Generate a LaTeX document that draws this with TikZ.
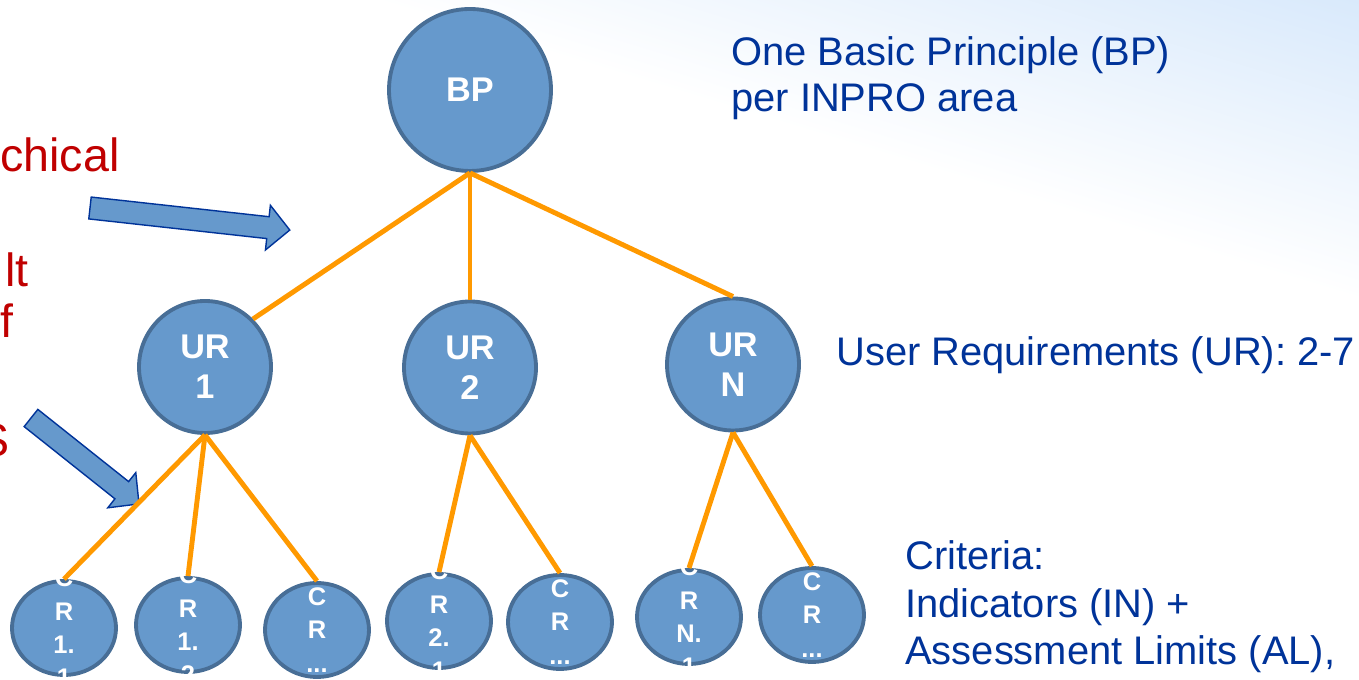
\documentclass[tikz,border=0pt]{standalone}
\usepackage{fontspec}
\setmainfont{Liberation Sans}
\usetikzlibrary{shapes.geometric}

\definecolor{nodeblue}{RGB}{102,153,204}
\definecolor{nodeedge}{RGB}{72,110,150}
\definecolor{treeline}{RGB}{255,153,0}
\definecolor{textblue}{RGB}{0,51,153}
\definecolor{textred}{RGB}{192,0,0}
\definecolor{skyblue}{RGB}{204,226,250}

\begin{document}
\begin{tikzpicture}
  [bubble/.style={circle,draw=nodeedge,fill=nodeblue,line width=2.2pt,text=white,
     font=\bfseries\fontsize{19.5}{22.7}\selectfont,align=center,inner sep=0pt},
   leaf/.style={ellipse,draw=nodeedge,fill=nodeblue,line width=2.2pt,inner sep=0pt,
     minimum width=2.08cm,minimum height=1.88cm},
   leaftext/.style={text=white,font=\bfseries\fontsize{14.5}{19}\selectfont,align=center,inner sep=0pt},
   branch/.style={treeline,line width=2.8pt},
   note/.style={text=textblue,font=\fontsize{22.7}{26.5}\selectfont,align=left,anchor=west,inner sep=0pt},
   hint/.style={text=textred,font=\fontsize{26.5}{30}\selectfont,inner sep=0pt},
   pointer/.style={draw=textblue,fill=nodeblue,line width=0.8pt}]
  \useasboundingbox (0,0) rectangle (27.18,13.6);
  \clip (0,0) rectangle (27.18,13.6);

  % pale sky in the top right corner
  \begin{scope}[transform canvas={shift={(14,13.6)},rotate=-16.9}]
    \shade[top color=skyblue,bottom color=white] (-12,-1.91) rectangle (16,5.73);
  \end{scope}

  % text running off the left edge
  \node[hint,anchor=west] (h1) at (0,10.5) {chical};
  \node[hint,anchor=west] (h2) at (0.1,8.2) {lt};
  \node[hint,anchor=west] (h3) at (0,7.18) {f};
  \node[hint,anchor=east] (h4) at (0.2,4.8) {S};

  \draw[pointer,shift={(1.8,9.44)},rotate=-6.3]
    (0,0.22) -- (3.58,0.22) -- (3.58,0.45) -- (4.02,0) -- (3.58,-0.45) -- (3.58,-0.22) -- (0,-0.22) -- cycle;
  \draw[pointer,shift={(0.62,5.24)},rotate=-38.5]
    (0,0.22) -- (2.32,0.22) -- (2.32,0.45) -- (2.76,0) -- (2.32,-0.45) -- (2.32,-0.22) -- (0,-0.22) -- cycle;

  % the tree
  \node[bubble,minimum size=3.24cm] (bp) at (9.4,11.8) {BP};

  \node[bubble,minimum size=2.64cm] (ur1) at (4.1,6.26)  {UR\\1};
  \node[bubble,minimum size=2.64cm] (ur2) at (9.4,6.25)  {UR\\2};
  \node[bubble,minimum size=2.64cm] (urn) at (14.66,6.31) {UR\\N};

  \node[leaf,label={[leaftext]center:{C\\R\\1.\\1}}] (cr11) at (1.28,1.04) {};
  \node[leaf,label={[leaftext]center:{C\\R\\1.\\2}}] (cr12) at (3.76,1.1) {};
  \node[leaf,label={[leaftext]center:{C\\R\\...}}]    (cr1x) at (6.34,1.0) {};
  \node[leaf,label={[leaftext]center:{C\\R\\2.\\1}}] (cr21) at (8.78,1.18) {};
  \node[leaf,label={[leaftext]center:{C\\R\\...}}]    (cr2x) at (11.2,1.16) {};
  \node[leaf,label={[leaftext]center:{C\\R\\N.\\1}}] (crn1) at (13.78,1.26) {};
  \node[leaf,label={[leaftext]center:{C\\R\\...}}]    (crnx) at (16.24,1.3) {};

  \draw[branch] (bp.south) -- (ur1.45);
  \draw[branch] (bp.south) -- (ur2.north);
  \draw[branch] (bp.south) -- (urn.north);
  \foreach \c in {cr11,cr12,cr1x}
    \draw[branch] (ur1.south) -- (\c.north);
  \foreach \c in {cr21,cr2x}
    \draw[branch] (ur2.south) -- (\c.north);
  \foreach \c in {crn1,crnx}
    \draw[branch] (urn.south) -- (\c.north);

  % level descriptions
  \node[note] (bpnote) at (14.62,12.04) {One Basic Principle (BP)\\per INPRO area};
  \node[note] (urnote) at (16.72,6.5) {User Requirements (UR): 2-7};
  \node[note,font=\fontsize{22.7}{27}\selectfont] (crnote) at (18.1,1.46)
    {Criteria:\\Indicators (IN) +\\Assessment Limits (AL),};
\end{tikzpicture}
\end{document}
